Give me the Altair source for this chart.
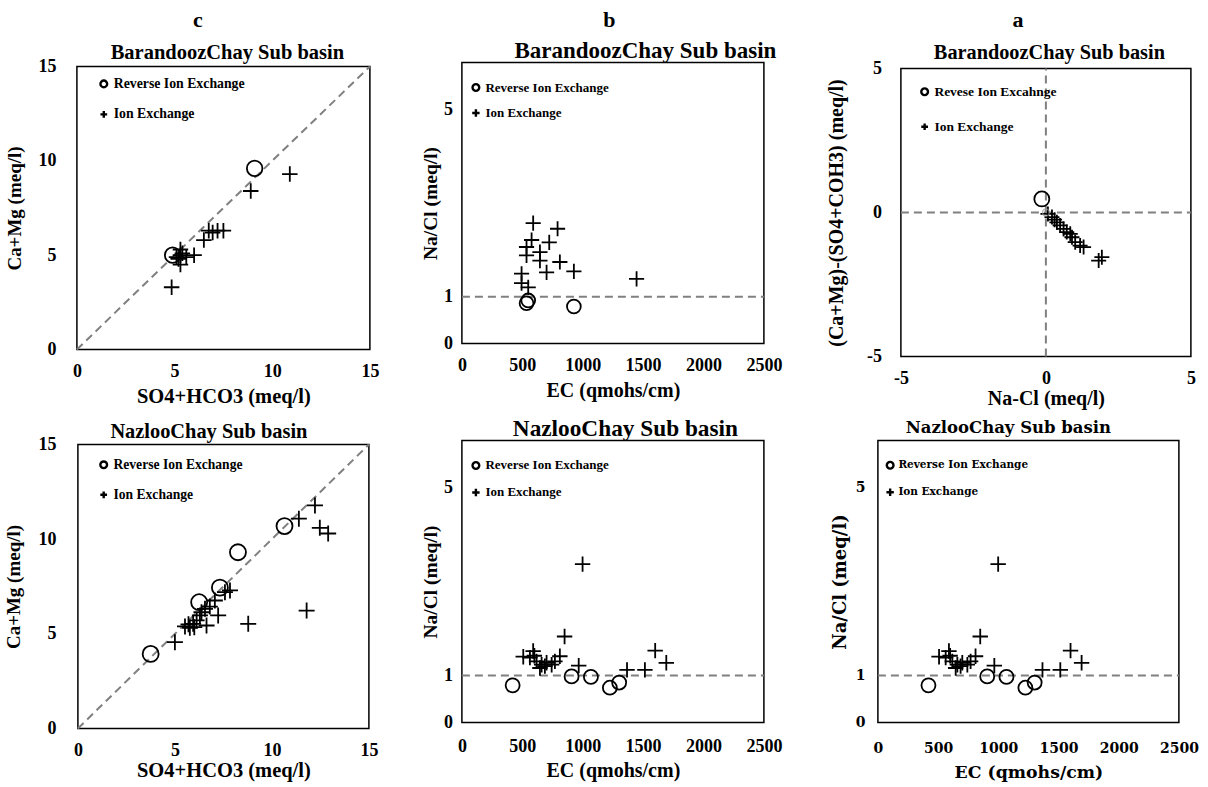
import altair as alt
import pandas as pd

FONT = "Liberation Serif"
FONT2 = "DejaVu Serif"
PLUS = "M-1,0L1,0M0,-1L0,1"
PLUS_L = "M-1.1,0L1.1,0M0,-1.1L0,1.1"

# ---------------- data ----------------
# c (top) : BarandoozChay  SO4+HCO3 vs Ca+Mg
c1_rev_x = [4.9, 9.1]
c1_rev_y = [5.0, 9.6]
c1_ion_x = [10.9, 8.9, 6.75, 6.95, 7.2, 7.5, 6.5, 5.3, 5.3, 5.2, 5.3, 5.1, 5.6, 6.0, 5.4, 4.85]
c1_ion_y = [9.3, 8.4, 6.3, 6.2, 6.3, 6.3, 5.8, 5.3, 5.0, 4.8, 4.5, 4.9, 4.9, 5.0, 5.1, 3.3]

# b (top) : BarandoozChay  EC vs Na/Cl
b1_rev_x = [549, 535, 927]
b1_rev_y = [0.92, 0.86, 0.79]
b1_ion_x = [590, 792, 577, 723, 535, 646, 535, 646, 811, 701, 927, 494, 494, 549, 1446]
b1_ion_y = [2.57, 2.45, 2.21, 2.16, 2.06, 1.95, 1.88, 1.77, 1.74, 1.52, 1.54, 1.49, 1.29, 1.20, 1.38]

# a (top) : BarandoozChay  Na-Cl vs (Ca+Mg)-(SO4+HCO3)
a1_rev_x = [-0.14]
a1_rev_y = [0.47]
a1_ion_x = [0.07, 0.21, 0.30, 0.38, 0.49, 0.61, 0.72, 0.84, 0.90, 1.01, 1.18, 1.30, 1.82, 1.93]
a1_ion_y = [-0.05, -0.16, -0.25, -0.34, -0.45, -0.57, -0.68, -0.74, -0.86, -1.03, -1.15, -1.20, -1.67, -1.55]
a1_small_x = [0.0]
a1_small_y = [0.0]

# c (bottom) : NazlooChay
c2_rev_x = [3.75, 6.25, 7.32, 8.25, 10.65]
c2_rev_y = [3.94, 6.67, 7.44, 9.31, 10.69]
c2_ion_x = [5.0, 5.52, 5.77, 5.94, 6.12, 6.29, 6.37, 6.55, 6.63, 6.80, 7.06, 7.23, 7.58, 7.84,
            8.78, 11.79, 11.39, 12.22, 12.47, 12.90, 5.7, 6.0]
c2_ion_y = [4.56, 5.39, 5.32, 5.53, 5.71, 5.97, 6.14, 6.32, 5.44, 6.44, 6.76, 5.97, 7.20, 7.29,
            5.53, 6.23, 11.08, 11.78, 10.60, 10.30, 5.5, 5.35]

# b and a (bottom) : NazlooChay  EC vs Na/Cl
b2_rev_x = [420, 908, 1068, 1225, 1302]
b2_rev_y = [0.79, 0.98, 0.97, 0.74, 0.85]
b2_ion_x = [999, 850, 1600, 1692, 1515, 1367, 967, 811, 508, 590, 563, 618, 660, 701, 743, 770, 646, 687, 600]
b2_ion_y = [3.37, 1.83, 1.53, 1.27, 1.12, 1.12, 1.21, 1.41, 1.40, 1.52, 1.38, 1.30, 1.23, 1.27, 1.23, 1.30, 1.16, 1.20, 1.42]

# reference lines (x1, y1, x2, y2)
diag_line = {"x1": [0], "y1": [0], "x2": [15], "y2": [15]}
ratio_line = {"x1": [0], "y1": [1], "x2": [2500], "y2": [1]}
cross_lines = {"x1": [-5, 0], "y1": [0, -5], "x2": [5, 0], "y2": [0, 5]}

ticks_15 = [0, 5, 10, 15]
ticks_ec = [0, 500, 1000, 1500, 2000, 2500]
ticks_ratio = [0, 1, 5]
ticks_5 = [-5, 0, 5]

REV = "Reverse Ion Exchange"
REV_A = "Revese Ion Excahnge"
ION = "Ion Exchange"

LABEL_EXPR = "'' + datum.value"


def pts_df(rx, ry, ix, iy, rev_lab, ion_lab):
    return pd.DataFrame({
        "x": rx + ix,
        "y": ry + iy,
        "type": [rev_lab] * len(rx) + [ion_lab] * len(ix),
    })


def panel(p):
    font = p.get("font", FONT)
    df = pts_df(p["rx"], p["ry"], p["ix"], p["iy"], p["rev"], ION)
    xs = alt.Scale(domain=p["xdom"], nice=False, zero=False, range=p["xr"])
    ys = alt.Scale(domain=p["ydom"], nice=False, zero=False, range=p["yr"])
    x_axis = alt.Axis(values=p["xvals"], title=p["xtitle"], labelFlush=False, labelExpr=LABEL_EXPR,
                      labelFont=font, labelFontSize=p["ls"], labelFontWeight="bold", labelColor="black",
                      labelPadding=p["xlp"], titleFont=font, titleFontSize=p["ts"], titleFontWeight="bold",
                      titleColor="black", titlePadding=p["xtp"])
    y_axis = alt.Axis(values=p["yvals"], title=p["ytitle"], labelExpr=LABEL_EXPR, offset=-p["xr"][0],
                      labelFont=font, labelFontSize=p["ls"], labelFontWeight="bold", labelColor="black",
                      labelPadding=p["ylp"], titleFont=font, titleFontSize=p["yts"], titleFontWeight="bold",
                      titleColor="black", titlePadding=p["ytp"])
    top_axis = alt.Axis(orient="top", title=p["top"], labels=False, ticks=False, domain=False,
                        titleFont=font, titleFontSize=p["tops"], titleFontWeight="bold", titleColor="black",
                        titleX=p["topx"], titleY=p["topy"], titleAlign="center", titleBaseline="alphabetic",
                        titleAngle=0)
    legend = alt.Legend(orient="none", legendX=p["lgx"], legendY=p["lgy"], title=None, direction="vertical",
                        labelFont=font, labelFontSize=p["lgs"], labelFontWeight="bold", labelColor="black",
                        symbolSize=45, symbolStrokeWidth=2.4, symbolStrokeColor="black",
                        symbolFillColor="white", rowPadding=p["lgr"], padding=0, labelOffset=3)
    frame_df = pd.DataFrame({"fx1": [p["xdom"][0]], "fx2": [p["xdom"][1]],
                             "fy1": [p["ydom"][0]], "fy2": [p["ydom"][1]]})
    frame = alt.Chart(frame_df).mark_rect(filled=False, color="black", strokeWidth=1.5).encode(
        x=alt.X("fx1:Q", scale=xs, axis=None),
        x2="fx2:Q",
        y=alt.Y("fy1:Q", scale=ys),
        y2="fy2:Q",
    )
    rules = alt.Chart(pd.DataFrame(p["ref"])).mark_rule(color="#808080", strokeWidth=2,
                                                        strokeDash=[8, 5]).encode(
        x=alt.X("x1:Q", scale=xs, axis=top_axis),
        y=alt.Y("y1:Q", scale=ys),
        x2="x2:Q",
        y2="y2:Q",
    )
    points = alt.Chart(df).mark_point(filled=False, color="black", strokeWidth=1.8, opacity=1).encode(
        x=alt.X("x:Q", scale=xs, axis=x_axis),
        y=alt.Y("y:Q", scale=ys, axis=y_axis),
        shape=alt.Shape("type:N", scale=alt.Scale(domain=[p["rev"], ION], range=["circle", p.get("plus", PLUS)]),
                        legend=legend),
        size=alt.value(p["size"]),
    )
    layers = [frame, rules, points]
    if "sx" in p:
        small = alt.Chart(pd.DataFrame({"x": p["sx"], "y": p["sy"]})).mark_point(
            shape="circle", filled=False, color="#999999", strokeWidth=1.2, size=45).encode(
            x=alt.X("x:Q", scale=xs, axis=None), y=alt.Y("y:Q", scale=ys))
        layers.append(small)
    props = dict(width=p["w"], height=p["h"])
    if "letter" in p:
        props["title"] = alt.TitleParams(p["letter"], fontSize=22, frame="group", anchor="middle",
                                         dx=p["ldx"], offset=p["loff"], font=FONT, fontWeight="bold",
                                         color="black")
    return alt.layer(*layers).resolve_axis(x="independent").properties(**props)


c1 = panel(dict(rx=c1_rev_x, ry=c1_rev_y, ix=c1_ion_x, iy=c1_ion_y, rev=REV,
                xdom=[0, 15], ydom=[0, 15], xvals=ticks_15, yvals=ticks_15,
                w=293, h=287, xr=[0, 293], yr=[287, 4],
                xtitle="SO4+HCO3 (meq/l)", ytitle="Ca+Mg (meq/l)", top="BarandoozChay Sub basin",
                topx=150, topy=-3.7, tops=20.5,
                ls=18, ts=20.5, yts=19, xlp=13, xtp=6.5, ylp=21, ytp=13.5,
                lgx=20, lgy=14.5, lgr=12.5, lgs=13.8, size=240, ref=diag_line,
                letter="c", ldx=-25.5, loff=10.6))
b1 = panel(dict(rx=b1_rev_x, ry=b1_rev_y, ix=b1_ion_x, iy=b1_ion_y, rev=REV,
                xdom=[0, 2500], ydom=[0, 6], xvals=ticks_ec, yvals=ticks_ratio,
                w=302, h=281, xr=[0, 302], yr=[281, 0],
                xtitle="EC (qmohs/cm)", ytitle="Na/Cl (meq/l)", top="BarandoozChay Sub basin",
                topx=183, topy=-5.3, tops=23,
                ls=18, ts=20, yts=19.5, xlp=13, xtp=6.5, ylp=9.5, ytp=2.8,
                lgx=7.5, lgy=18.5, lgr=8.5, lgs=13, size=190, plus=PLUS_L, ref=ratio_line,
                letter="b", ldx=-3.5, loff=7))
a1 = panel(dict(rx=a1_rev_x, ry=a1_rev_y, ix=a1_ion_x, iy=a1_ion_y, rev=REV_A, sx=a1_small_x, sy=a1_small_y,
                xdom=[-5, 5], ydom=[-5, 5], xvals=ticks_5, yvals=ticks_5,
                w=335, h=294, xr=[45, 335], yr=[294, 6],
                xtitle="Na-Cl (meq/l)", ytitle="(Ca+Mg)-(SO4+COH3) (meq/l)", top="BarandoozChay Sub basin",
                topx=193, topy=-3.7, tops=20.3,
                ls=18, ts=20, yts=20, xlp=13, xtp=1.5, ylp=19.5, ytp=20,
                lgx=62, lgy=22.5, lgr=18, lgs=13.5, size=225, ref=cross_lines,
                letter="a", ldx=-5.5, loff=10.6))
c2 = panel(dict(rx=c2_rev_x, ry=c2_rev_y, ix=c2_ion_x, iy=c2_ion_y, rev=REV,
                xdom=[0, 15], ydom=[0, 15], xvals=ticks_15, yvals=ticks_15,
                w=293, h=288, xr=[1, 292], yr=[288, 4],
                xtitle="SO4+HCO3 (meq/l)", ytitle="Ca+Mg (meq/l)", top="NazlooChay Sub basin",
                topx=131.5, topy=-3.3, tops=20.4,
                ls=18, ts=20.5, yts=19, xlp=13, xtp=1.5, ylp=22, ytp=14,
                lgx=20, lgy=17.5, lgr=13, lgs=13.6, size=256, ref=diag_line))
b2 = panel(dict(rx=b2_rev_x, ry=b2_rev_y, ix=b2_ion_x, iy=b2_ion_y, rev=REV,
                xdom=[0, 2500], ydom=[0, 6], xvals=ticks_ec, yvals=ticks_ratio,
                w=302, h=282, xr=[0, 302], yr=[282, 0],
                xtitle="EC (qmohs/cm)", ytitle="Na/Cl (meq/l)", top="NazlooChay Sub basin",
                topx=163, topy=-5, tops=23.3,
                ls=18, ts=20, yts=19.5, xlp=15, xtp=5.5, ylp=9.5, ytp=2.8,
                lgx=7.5, lgy=18.5, lgr=10, lgs=13, size=196, plus=PLUS_L, ref=ratio_line))
a2 = panel(dict(rx=b2_rev_x, ry=b2_rev_y, ix=b2_ion_x, iy=b2_ion_y, rev=REV, font=FONT2,
                xdom=[0, 2500], ydom=[0, 6], xvals=ticks_ec, yvals=ticks_ratio,
                w=323, h=282, xr=[22, 323], yr=[282, 0],
                xtitle="EC (qmohs/cm)", ytitle="Na/Cl (meq/l)", top="NazlooChay Sub basin",
                topx=152, topy=-8.3, tops=16.5,
                ls=14, ts=17.3, yts=18, xlp=19, xtp=8.5, ylp=13, ytp=5.5,
                lgx=29, lgy=19.5, lgr=9, lgs=10.5, size=196, plus=PLUS_L, ref=ratio_line))

chart = alt.concat(
    c1, b1, a1, c2, b2, a2,
    columns=3,
    align="each",
    bounds="flush",
    spacing={"row": 84, "column": 92},
).resolve_scale(shape="independent").properties(
    padding={"left": 3.9, "top": 8.5, "right": 5, "bottom": 2}
).configure_view(stroke="transparent").configure_axis(grid=False, ticks=False, domain=False)

chart.save("out.html", embed_options={"renderer": "svg", "actions": False})
